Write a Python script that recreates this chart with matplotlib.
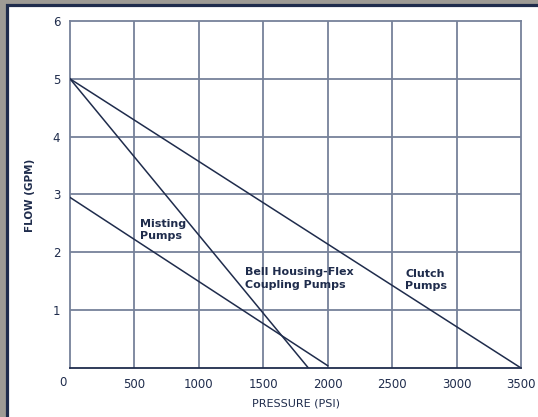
import matplotlib.pyplot as plt
from matplotlib.patches import Rectangle

# pump curves: (pressure psi, flow gpm)
clutch_psi = [0, 3500]
clutch_gpm = [5, 0]
bell_psi = [0, 1850]
bell_gpm = [5, 0]
misting_psi = [0, 2000]
misting_gpm = [2.95, 0.04]

x_ticks = [0, 500, 1000, 1500, 2000, 2500, 3000, 3500]
y_ticks = [1, 2, 3, 4, 5, 6]

navy = "#1f2c4c"
grid_col = "#76819a"

fig = plt.figure(figsize=(5.38, 4.17), dpi=100, facecolor="#9e9b95")
# white panel with dark frame
fig.patches.append(Rectangle((6.5 / 538, -0.05), 1.1, 1.05 - 4.5 / 417,
                             transform=fig.transFigure, facecolor="white",
                             edgecolor=navy, linewidth=2.3, zorder=-10))

ax = fig.add_axes([70 / 538, 49 / 417, 451 / 538, 347 / 417])
ax.set_xlim(0, 3500)
ax.set_ylim(0, 6)
ax.set_facecolor("white")

for x in x_ticks[1:-1]:
    ax.axvline(x, color=grid_col, lw=1.3, zorder=1)
for y in y_ticks[:-1]:
    ax.axhline(y, color=grid_col, lw=1.3, zorder=1)

for sp in ["left", "top", "right"]:
    ax.spines[sp].set_color(grid_col)
    ax.spines[sp].set_linewidth(1.3)
ax.spines["bottom"].set_color(navy)
ax.spines["bottom"].set_linewidth(1.3)

ax.plot(clutch_psi, clutch_gpm, color=navy, lw=1.1, zorder=3)
ax.plot(bell_psi, bell_gpm, color=navy, lw=1.1, zorder=3)
ax.plot(misting_psi, misting_gpm, color=navy, lw=1.1, zorder=3)

ax.set_xticks(x_ticks)
ax.set_xticklabels([""] + [str(v) for v in x_ticks[1:]])
ax.set_yticks([0] + y_ticks)
ax.set_yticklabels([""] + [str(v) for v in y_ticks])
ax.tick_params(length=0, labelsize=8.5, colors=navy)
ax.tick_params(axis="y", pad=7)
ax.tick_params(axis="x", pad=7)

fig.text(63 / 538, 1 - 383 / 417, "0", ha="center", va="center",
         fontsize=8.5, color=navy)

ax.text(543, 2.58, "Misting\nPumps", fontsize=8, fontweight="bold",
        color=navy, va="top", ha="left", linespacing=1.3)
ax.text(1358, 1.74, "Bell Housing-Flex\nCoupling Pumps", fontsize=8,
        fontweight="bold", color=navy, va="top", ha="left", linespacing=1.3)
ax.text(2600, 1.72, "Clutch\nPumps", fontsize=8, fontweight="bold",
        color=navy, va="top", ha="left", linespacing=1.3)

fig.text(30 / 538, 1 - 195 / 417, "FLOW (GPM)", rotation=90, ha="center",
         va="center", fontsize=7.5, fontweight="bold", color=navy)
fig.text(296 / 538, 1 - 403 / 417, "PRESSURE (PSI)", ha="center",
         va="center", fontsize=8, color=navy)

fig.savefig("out.png", dpi=100, facecolor=fig.get_facecolor())
